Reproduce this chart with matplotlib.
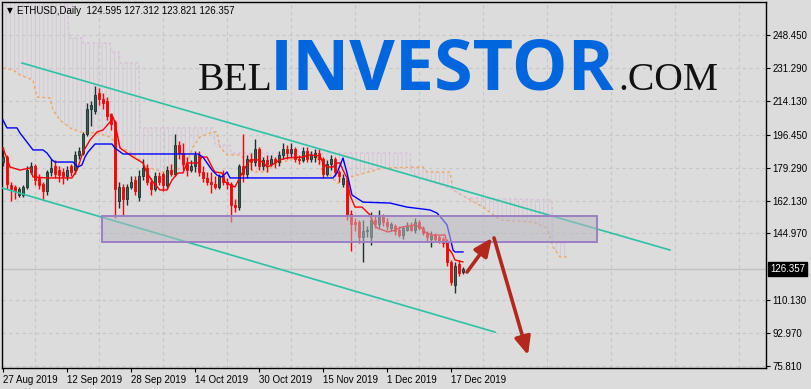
import numpy as np
import matplotlib
matplotlib.use("Agg")
import matplotlib.pyplot as plt
import matplotlib.transforms as mtransforms
from matplotlib.patches import Rectangle, Polygon

# daily bars, bar 0 = 27 Aug 2019
opens = [182, 185, 170, 169, 165, 165, 169, 177, 180, 174, 171, 167, 177, 180, 178, 177, 175, 180, 178, 186,
         187, 197, 210, 209, 218, 215, 214, 207, 203, 162, 169, 163, 169, 173, 164, 175, 179, 172, 168, 175,
         176, 170, 178, 176, 191, 187, 181, 178, 180, 186, 177, 174, 172, 171, 169, 175, 172, 171, 160, 159,
         180, 176, 184, 182, 189, 180, 183, 181, 184, 182, 186, 189, 187, 189, 184, 183, 188, 184, 185, 187,
         184, 176, 181, 184, 177, 171, 173, 155, 151, 151, 143, 146, 143, 152, 150, 154, 151, 148, 149, 147,
         144, 147, 149, 147, 151, 148, 145, 142, 144, 143, 142, 141, 130, 118, 129, 124.595]
highs = [190, 186, 172, 170, 169, 170, 180, 182, 181, 176, 172, 178, 184, 183, 180, 179, 180, 181, 188, 190,
         198, 213, 214, 222, 221, 218, 216, 208, 204, 172, 171, 171, 175, 175, 178, 184, 181, 174, 177, 177,
         177, 180, 181, 197, 193, 192, 185, 183, 188, 188, 180, 177, 177, 175, 176, 178, 174, 172, 163, 181,
         197, 186, 187, 194, 190, 185, 186, 186, 185, 188, 192, 191, 192, 190, 186, 190, 190, 188, 189, 189,
         185, 183, 186, 185, 178, 176, 174, 157, 153, 152, 152, 149, 156, 154, 157, 155, 153, 151, 150, 149,
         149, 151, 151, 153, 152, 149, 146, 146, 145, 144, 143, 142, 131, 130, 131, 127.312]
lows = [180, 168, 162, 163, 164, 164, 168, 176, 170, 168, 163, 165, 175, 174, 172, 171, 173, 175, 176, 184,
        186, 196, 201, 207, 212, 210, 204, 199, 153, 158, 154, 160, 168, 165, 162, 173, 170, 165, 167, 170,
        167, 168, 175, 175, 184, 178, 175, 177, 177, 175, 172, 170, 166, 168, 168, 170, 168, 151, 156, 157,
        172, 174, 178, 180, 178, 178, 177, 180, 179, 180, 184, 184, 185, 182, 181, 182, 182, 182, 182, 181,
        174, 175, 178, 175, 172, 169, 152, 136, 146, 140, 130, 143, 139, 148, 148, 149, 147, 146, 144, 143,
        142, 146, 146, 145, 147, 144, 141, 138, 141, 140, 138, 128, 118, 114, 123, 123.821]
closes = [185, 171, 168, 167, 168, 169, 178, 180, 173, 170, 167, 177, 179, 176, 175.5, 175, 178, 177, 186, 188,
          197, 210, 212, 217, 215, 213, 206, 202, 168, 169, 163, 169, 172, 167, 175, 179, 172, 168, 175, 172,
          170, 178, 176, 191, 187, 181, 178, 180, 186, 177, 174, 172, 171, 169, 175, 172, 171, 160, 159, 180,
          176, 184, 182, 189, 180, 183, 181, 184, 182, 186, 189, 187, 189, 184, 183, 188, 184, 186, 187, 184,
          176, 181, 184, 177, 175, 174, 155, 150, 150, 143, 146, 147, 152, 150, 154, 151, 149, 150, 146, 144,
          148, 149, 147, 151, 148, 145, 143, 144, 142, 141, 140, 130, 119.5, 128, 124.5, 126.357]

# Ichimoku lines (bar index, price)
tenkan_x = [0, 1.75, 4.25, 6.75, 7.5, 11, 17.25, 18.5, 20, 21.75, 23.5, 25, 26.75, 27.5, 28, 29.25, 32.5, 35,
            36, 37.5, 39.25, 41, 42.25, 43.75, 45, 46, 48.75, 49.75, 51, 52.25, 53, 54.75, 55.5, 56.75, 58,
            59.25, 60.5, 61.75, 63.75, 65, 66, 67.25, 69.25, 71, 74.75, 76.75, 79.25, 80, 81, 82.5, 83.5,
            84.25, 85, 86, 86.75, 88, 89.75, 91.75, 92.5, 93.5, 95, 96.25, 98, 99.75, 103, 104.75, 105.5,
            107.25, 110.5, 111.25, 112.25, 113, 115]
tenkan_y = [189.5, 179.6, 178.0, 179.1, 174.4, 173.9, 173.9, 178.0, 187.4, 193.7, 197.9, 198.9, 203.1, 205.7,
            202.6, 189.5, 184.8, 181.7, 176.5, 171.8, 167.6, 167.6, 172.8, 176.5, 176.5, 181.7, 181.7, 184.8,
            184.8, 179.6, 177.0, 176.5, 171.8, 170.2, 169.2, 174.4, 179.1, 183.3, 183.3, 182.2, 179.6, 180.7,
            183.3, 184.3, 184.8, 185.9, 185.4, 181.7, 179.6, 179.6, 181.7, 181.7, 178.0, 173.9, 165.0, 158.7,
            158.7, 154.6, 150.9, 147.8, 146.7, 145.7, 146.7, 148.3, 149.4, 147.8, 145.7, 144.1, 144.1, 137.4,
            134.7, 131.1, 130.1]
kijun_x = [0, 1, 3.5, 4.25, 5, 6, 7.5, 10, 11, 12.25, 13, 17.5, 18.75, 19.75, 20.5, 21.25, 23, 27.25, 28, 30,
           48.75, 50, 52.25, 53.5, 54.75, 56, 56.75, 82.5, 83.5, 85, 86, 87.25, 88, 90, 96.75, 101, 106.75,
           108.5, 110, 111, 111.75, 112.5, 113, 115]
kijun_y = [204.1, 200.0, 200.0, 197.3, 195.3, 192.6, 188.5, 188.5, 186.9, 183.3, 182.2, 182.2, 179.6, 180.7,
           184.8, 187.4, 191.6, 191.6, 189.5, 186.4, 186.4, 184.8, 178.0, 175.4, 174.4, 177.0, 173.9, 173.9,
           176.5, 184.3, 176.5, 165.0, 164.0, 161.3, 160.8, 158.7, 157.2, 155.6, 152.0, 149.4, 143.1, 136.3,
           135.3, 135.3]
span_a_x = [0, 2.5, 4.25, 7.5, 8.5, 11.75, 12.5, 14.25, 16.75, 19.25, 23.5, 26.75, 28, 29.25, 31.75, 34.25,
            36, 38.5, 41, 43.5, 46, 47.5, 49.25, 52.5, 53.5, 54.25, 56, 59.25, 61.75, 62.5, 66, 67.5, 73.5,
            78.5, 79.25, 80.5, 81.75, 83.5, 85, 86, 95, 105, 106, 111.75, 112.5, 116, 120, 124.25, 132.5,
            136, 137.5, 139.25, 141]
span_a_y = [231.2, 230.2, 227.6, 225.0, 216.1, 215.6, 209.3, 204.1, 200.0, 197.9, 197.3, 195.3, 192.6, 190.0,
            187.4, 183.3, 179.6, 178.0, 176.5, 178.0, 181.7, 190.0, 195.3, 197.9, 197.9, 190.0, 185.9, 185.9,
            181.7, 177.0, 177.0, 180.7, 184.3, 184.8, 179.6, 176.5, 175.4, 171.3, 171.3, 173.9, 179.1, 179.6,
            177.0, 177.0, 167.6, 163.4, 158.7, 152.0, 150.9, 147.8, 137.9, 132.7, 132.7]
span_b_x = [0, 16, 16.5, 19.75, 20, 26.75, 27, 29, 29.25, 34, 34.25, 52.5, 53, 56.75, 57, 101.75, 102, 104,
            110, 112.5, 116, 137.25, 137.5, 141]
span_b_y = [268.0, 268.0, 246.9, 246.9, 244.3, 244.3, 239.6, 239.6, 233.9, 233.9, 200.0, 200.0, 191.1, 191.1,
            186.9, 186.9, 177.5, 174.0, 170.0, 167.6, 163.4, 162.4, 140.0, 140.0]

# drawn objects (bar index, price)
channel_up = ([4.75, 166.75], [233.85, 136.3])
channel_dn = ([-0.25, 123.0], [168.65, 93.5])
zone = (24.75, 140.5, 123.75, 13.55)
arrow_1 = ((116, 124.8), (122.25, 142.6))
arrow_2 = ((122.75, 142.6), (131.25, 81.5))

date_pos = [0, 16, 32, 48, 64, 80, 96, 112]
date_labels = ["27 Aug 2019", "12 Sep 2019", "28 Sep 2019", "14 Oct 2019", "30 Oct 2019",
               "15 Nov 2019", "1 Dec 2019", "17 Dec 2019"]
price_ticks = [248.45, 231.29, 214.13, 196.45, 179.29, 162.13, 144.97, 110.13, 92.97, 75.81]
last_price = 126.357

bg = "#dcdcdc"
plt.rcParams["font.family"] = ["Liberation Sans", "DejaVu Sans"]
plt.rcParams["hatch.linewidth"] = 0.7
plt.rcParams["hatch.color"] = "#d6c6d8"

W, H = 811, 389
fig = plt.figure(figsize=(W / 100, H / 100), dpi=100, facecolor=bg)
ax = fig.add_axes([2 / W, (H - 368) / H, 764 / W, 366 / H], facecolor=bg)
ax.set_xlim(-0.25, 190.75)
ax.set_ylim(74.77, 265.67)

# grid
for p in price_ticks:
    ax.axhline(p, color="#c6c6c6", lw=0.8, ls=(0, (3, 3)), zorder=0.5)
for gx in range(8, 191, 16):
    ax.axvline(gx, color="#c6c6c6", lw=0.8, ls=(0, (3, 3)), zorder=0.5)
ax.axhline(last_price, color="#c2c2c2", lw=1, zorder=0.6)

# cloud
verts = list(zip(span_a_x, span_a_y)) + list(zip(span_b_x, span_b_y))[::-1]
ax.add_patch(Polygon(verts, closed=True, facecolor="none", edgecolor="#d6c6d8", lw=0,
                     hatch="||||", zorder=1))
ax.plot(span_a_x, span_a_y, color="#f4a460", lw=1, ls=(0, (2, 2)), zorder=1.5)
ax.plot(span_b_x, span_b_y, color="#d8bfd8", lw=1, ls=(0, (2, 2)), zorder=1.5)

# candles
o = np.array(opens); h = np.array(highs); l = np.array(lows); c = np.array(closes)
idx = np.arange(len(c))
up = c >= o
bull, bull_edge = "#2f6253", "#1b302a"
ax.vlines(idx[up], l[up], h[up], color=bull_edge, lw=1, zorder=3)
ax.vlines(idx[~up], l[~up], h[~up], color="#ff0000", lw=1, zorder=3)
body_lo = np.minimum(o, c)
body_h = np.maximum(np.abs(c - o), 0.4)
ax.bar(idx[up], body_h[up], bottom=body_lo[up], width=0.6, color=bull, edgecolor=bull_edge,
       lw=0.6, zorder=3.2)
ax.bar(idx[~up], body_h[~up], bottom=body_lo[~up], width=0.6, color="#ff0000", edgecolor="#ff0000",
       lw=0.6, zorder=3.2)

# tenkan / kijun
ax.plot(tenkan_x, tenkan_y, color="#ff0000", lw=1, zorder=3.5)
ax.plot(kijun_x, kijun_y, color="#0000ff", lw=1, zorder=3.5)

# channel
chan = "#2cc2a6"
ax.plot(*channel_up, color=chan, lw=1.2, zorder=4)
ax.plot(*channel_dn, color=chan, lw=1.2, zorder=4)

# zone rectangle
ax.add_patch(Rectangle(zone[:2], zone[2], zone[3], facecolor=(0.72, 0.72, 0.76, 0.55),
                       edgecolor="#9b80c4", lw=1.4, zorder=5))

# arrows
for start, tip in (arrow_1, arrow_2):
    ax.annotate("", xy=tip, xytext=start, zorder=6,
                arrowprops=dict(arrowstyle="-|>,head_width=0.4,head_length=0.9", color="#b3271d",
                                lw=2.6, mutation_scale=12, shrinkA=0, shrinkB=0))

# axes styling
for s in ax.spines.values():
    s.set_color("black")
    s.set_linewidth(1)
ax.yaxis.tick_right()
ax.set_yticks(price_ticks)
ax.set_yticklabels([f"{p:.3f}" for p in price_ticks])
ax.set_xticks(date_pos)
ax.set_xticklabels(date_labels, ha="left")
ax.tick_params(axis="both", labelsize=7, length=3, width=0.8, color="black", pad=1.5)
ax.tick_params(axis="x", pad=2)

tr = mtransforms.blended_transform_factory(ax.transAxes, ax.transData)
ax.text(1.005, last_price, f"{last_price:.3f}", transform=tr, color="white", fontsize=7,
        va="center", ha="left", bbox=dict(facecolor="black", edgecolor="black", pad=1.3), zorder=7)

# header
fig.text(7 / W, 1 - 11 / H, "\u25bc", fontsize=5.5, family="DejaVu Sans", va="center", ha="left")
fig.text(17 / W, 1 - 11 / H, "ETHUSD,Daily  124.595 127.312 123.821 126.357", fontsize=7,
         va="center", ha="left")

# watermark
base = 1 - 90 / H
fig.text(273 / W, base, "BEL", fontsize=28.5, family=["Liberation Serif", "DejaVu Serif"],
         color="#111111", ha="right", va="baseline")
fig.text(270 / W, base, "INVESTOR", fontsize=50.5, family=["Open Sans", "DejaVu Sans"],
         fontweight="bold", color="#0066dd", ha="left", va="baseline")
fig.text(618 / W, base, ".COM", fontsize=28.5, family=["Liberation Serif", "DejaVu Serif"],
         color="#111111", ha="left", va="baseline")

fig.savefig("out.png", dpi=100, facecolor=bg)
